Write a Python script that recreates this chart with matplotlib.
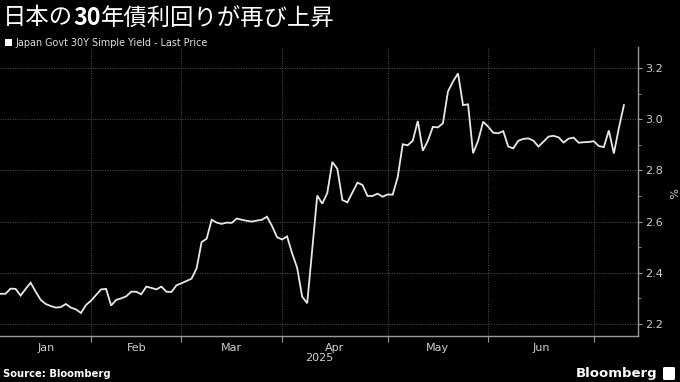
import matplotlib
matplotlib.use("Agg")
import matplotlib.pyplot as plt
import numpy as np
from matplotlib.patches import Rectangle, FancyBboxPatch

# ---------------- data ----------------
title_parts = ["日本の", "30", "年債利回りが再び上昇"]
title_weights = ["normal", "bold", "normal"]
legend_label = "Japan Govt 30Y Simple Yield - Last Price"
months = ["Jan", "Feb", "Mar", "Apr", "May", "Jun", "Jul"]
days_per_month = [18, 18, 20, 21, 20, 21, 7]   # trading days shown per month
year_label = "2025"
y_ticks = [2.2, 2.4, 2.6, 2.8, 3.0, 3.2]
unit_label = "%"
source_label = "Source: Bloomberg"
brand_label = "Bloomberg"

yields = [
    2.318, 2.318, 2.338, 2.337, 2.311, 2.337, 2.361, 2.326, 2.294, 2.278,
    2.270, 2.264, 2.266, 2.278, 2.264, 2.257, 2.243, 2.274, 2.291, 2.313,
    2.335, 2.337, 2.272, 2.294, 2.300, 2.308, 2.326, 2.326, 2.316, 2.346,
    2.341, 2.335, 2.346, 2.326, 2.325, 2.351, 2.359, 2.368, 2.377, 2.417,
    2.520, 2.533, 2.607, 2.596, 2.591, 2.596, 2.595, 2.612, 2.607, 2.603,
    2.600, 2.604, 2.607, 2.619, 2.583, 2.539, 2.530, 2.542, 2.476, 2.420,
    2.307, 2.281, 2.490, 2.702, 2.670, 2.712, 2.833, 2.806, 2.684, 2.675,
    2.714, 2.752, 2.743, 2.700, 2.700, 2.709, 2.697, 2.706, 2.705, 2.773,
    2.902, 2.898, 2.916, 2.993, 2.877, 2.915, 2.970, 2.968, 2.984, 3.108,
    3.147, 3.179, 3.055, 3.058, 2.867, 2.916, 2.990, 2.971, 2.947, 2.945,
    2.953, 2.893, 2.886, 2.916, 2.923, 2.925, 2.916, 2.893, 2.912, 2.932,
    2.935, 2.929, 2.909, 2.924, 2.928, 2.908, 2.910, 2.911, 2.914, 2.895,
    2.891, 2.956, 2.866, 2.966, 3.055,
]

# ---------------- figure ----------------
W, H = 680, 382
fig = plt.figure(figsize=(W / 100, H / 100), dpi=100, facecolor="black")

ax_left, ax_right, ax_top, ax_bottom = 0, 638, 47, 336
ax = fig.add_axes([ax_left / W, 1 - ax_bottom / H,
                   (ax_right - ax_left) / W, (ax_bottom - ax_top) / H])
ax.set_facecolor("black")

x = np.arange(len(yields))
ax.plot(x, yields, color="#e8e8e8", lw=1.3, solid_joinstyle="miter")

bounds = np.cumsum([0] + days_per_month)
ax.set_xlim(-0.1, 126.8)
ax.set_ylim(2.153, 3.282)

grid_col = "#505050"
axis_col = "#9a9a9a"
text_col = "#d0d0d0"

# vertical gridlines & ticks at month boundaries
ax.set_xticks(bounds[1:-1])
ax.set_xticklabels([])
mids = [(bounds[i] + bounds[i + 1]) / 2 for i in range(len(months)) if days_per_month[i] >= 10]
mlabels = [months[i] for i in range(len(months)) if days_per_month[i] >= 10]
ax.set_xticks(mids, minor=True)
ax.set_xticklabels(mlabels, minor=True)
ax.tick_params(axis="x", which="major", length=4, width=0.8, color=axis_col, direction="out")
ax.tick_params(axis="x", which="minor", length=0, pad=5, labelsize=8, labelcolor=text_col)

# y axis on the right
ax.yaxis.tick_right()
ax.set_yticks(y_ticks)
ax.set_yticklabels([f"{v:.1f}" for v in y_ticks])
ax.set_yticks([v + 0.1 for v in y_ticks[:-1]], minor=True)
ax.tick_params(axis="y", which="major", length=3, width=0.8, color=axis_col,
               labelsize=8, labelcolor=text_col, pad=2)
ax.tick_params(axis="y", which="minor", length=2, width=0.6, color=axis_col)

ax.grid(True, which="major", color=grid_col, linestyle=(0, (1, 1.5)), linewidth=0.7)

for side in ["top", "left"]:
    ax.spines[side].set_visible(False)
for side in ["right", "bottom"]:
    ax.spines[side].set_color(axis_col)
    ax.spines[side].set_linewidth(1.0)

# unit label
fig.text(671 / W, 1 - 193 / H, unit_label, rotation=270, color=text_col,
         fontsize=8, ha="center", va="center")

# year label centered under axis
fig.text((ax_left + ax_right) / 2 / W, 1 - 358 / H, year_label, color=text_col,
         fontsize=8, ha="center", va="center")

# ---------------- title ----------------
fig.canvas.draw()
renderer = fig.canvas.get_renderer()
xpos = 3 / W
for part, wt in zip(title_parts, title_weights):
    t = fig.text(xpos, 1 - 18 / H, part, fontsize=16.8, fontweight=wt, color="white",
                 family=["Noto Sans CJK JP", "DejaVu Sans"], ha="left", va="center")
    bb = t.get_window_extent(renderer=renderer)
    xpos = bb.x1 / W

# legend
fig.patches.append(Rectangle((5 / W, 1 - 46 / H), 7 / W, 7 / H, transform=fig.transFigure,
                             facecolor="white", edgecolor="none"))
fig.text(15 / W, 1 - 42.5 / H, legend_label, color="#e0e0e0", fontsize=6.9,
         ha="left", va="center")

# footer
fig.text(3 / W, 1 - 374 / H, source_label, color="white", fontsize=7.2,
         fontweight="bold", ha="left", va="center")
fig.text(657 / W, 1 - 373 / H, brand_label, color="white", fontsize=9.5,
         fontweight="bold", ha="right", va="center")
fig.patches.append(FancyBboxPatch((663 / W, 1 - 380 / H), 12 / W, 13 / H,
                                  boxstyle="round,pad=0,rounding_size=0.003",
                                  transform=fig.transFigure, facecolor="white",
                                  edgecolor="none"))

fig.savefig("out.png", dpi=100, facecolor="black")
